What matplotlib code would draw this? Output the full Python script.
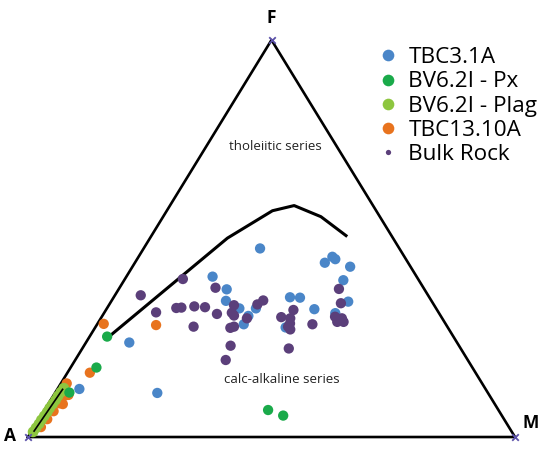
import matplotlib
matplotlib.use("Agg")
import matplotlib.pyplot as plt
from matplotlib.lines import Line2D
import numpy as np

plt.rcParams['font.family'] = ['Open Sans', 'DejaVu Sans']

# AFM compositions (F %, M %), A = 100 - F - M
tbc31a_F = [47.5, 43.9, 45.4, 44.8, 42.9, 39.5, 34.1, 31.2, 40.4, 37.2, 34.3, 32.4,
            30.5, 28.4, 32.4, 35.2, 35.1, 32.2, 27.6, 23.8, 11.1, 12.1]
tbc31a_M = [23.9, 39.0, 39.8, 40.7, 44.7, 45.0, 48.7, 47.5, 17.7, 22.2, 23.5, 27.2,
            30.0, 30.1, 30.6, 36.2, 38.3, 42.7, 39.1, 8.9, 21.0, 4.5]

px_F = [25.3, 17.5, 11.2, 6.8, 5.4]
px_M = [3.6, 5.3, 2.9, 45.9, 49.7]

plag_F = [1.3, 2.3, 3.3, 4.3, 5.3, 6.3, 7.3, 8.3, 9.3, 10.3, 11.3, 12.3]
plag_M = [0.4, 0.5, 0.6, 0.6, 0.7, 0.8, 0.8, 0.9, 1.0, 1.0, 1.1, 1.2]

tbc1310a_F = [28.5, 28.2, 16.2, 13.5, 10.6, 8.3, 2.5, 4.5, 6.5, 8.5, 10.5]
tbc1310a_M = [1.3, 12.2, 4.6, 1.2, 3.0, 3.0, 1.4, 1.7, 2.0, 2.2, 2.5]

bulk_F = [35.7, 39.8, 31.4, 32.5, 32.6, 32.9, 32.7, 27.8, 37.6, 31.0, 33.2, 31.3,
          30.6, 27.5, 27.8, 23.0, 19.4, 29.9, 33.4, 34.4, 32.0, 30.2, 29.9, 28.6,
          27.8, 27.1, 22.3, 28.4, 37.3, 33.7, 30.3, 29.0, 29.9, 29.0]
bulk_M = [5.3, 11.9, 10.6, 14.2, 15.2, 17.7, 20.0, 20.1, 19.7, 23.3, 25.7, 26.2,
          27.0, 27.8, 28.4, 30.1, 30.9, 30.0, 30.4, 31.1, 38.5, 36.9, 38.9, 39.5,
          39.5, 40.3, 42.4, 44.2, 45.2, 47.4, 47.9, 49.0, 49.5, 50.3]

# tholeiitic / calc-alkaline dividing line
div_F = [24.9, 50.1, 57.0, 58.3, 55.5, 50.5]
div_M = [3.8, 15.9, 21.7, 25.5, 32.4, 40.3]

tie_F = [1.5, 12.0]
tie_M = [0.5, 1.1]


def to_xy(F, M):
    F = np.asarray(F, float)
    M = np.asarray(M, float)
    return M + 0.5 * F, F


fig = plt.figure(figsize=(5.43, 4.5), dpi=100)
ax = fig.add_axes([0, 0, 1, 1])
ax.set_xlim(-5.75, 105.75)
ax.set_ylim(-3.27, 110.08)
ax.axis('off')

# triangle
tx, ty = to_xy([0, 0, 100, 0], [0, 100, 0, 0])
ax.plot(tx, ty, color='black', lw=1.9, zorder=2)
ax.scatter(tx[:3], ty[:3], marker='x', s=22, color='#5a50a8', lw=1.3, zorder=6)

ax.text(-3.7, 0.3, 'A', fontsize=12.5, fontweight='bold', ha='center', va='center')
ax.text(50, 105.5, 'F', fontsize=12.5, fontweight='bold', ha='center', va='center')
ax.text(103.3, 3.5, 'M', fontsize=12.5, fontweight='bold', ha='center', va='center')

x, y = to_xy(div_F, div_M)
ax.plot(x, y, color='black', lw=2.2, solid_capstyle='butt', zorder=3)

ax.text(50.7, 73.3, 'tholeiitic series', fontsize=9.5, color='#222222',
        ha='center', va='center')
ax.text(52.1, 14.4, 'calc-alkaline series', fontsize=9.5, color='#222222',
        ha='center', va='center')

blue = '#4a86c8'
green = '#1aaa4a'
lgreen = '#8dc63f'
orange = '#e8731e'
purple = '#5b3f7a'

x, y = to_xy(tbc1310a_F, tbc1310a_M)
ax.scatter(x, y, s=55, color=orange, edgecolors='none', zorder=4)
x, y = to_xy(plag_F, plag_M)
ax.scatter(x, y, s=60, color=lgreen, edgecolors='none', zorder=4)
x, y = to_xy(tie_F, tie_M)
ax.plot(x, y, color='black', lw=1.2, zorder=5)
x, y = to_xy(px_F, px_M)
ax.scatter(x, y, s=55, color=green, edgecolors='none', zorder=4)
x, y = to_xy(tbc31a_F, tbc31a_M)
ax.scatter(x, y, s=55, color=blue, edgecolors='none', zorder=4)
x, y = to_xy(bulk_F, bulk_M)
ax.scatter(x, y, s=55, color=purple, edgecolors='none', zorder=4)

handles = [
    Line2D([], [], ls='none', marker='o', ms=8.4, color=blue, mec='none'),
    Line2D([], [], ls='none', marker='o', ms=8.4, color=green, mec='none'),
    Line2D([], [], ls='none', marker='o', ms=8.4, color=lgreen, mec='none'),
    Line2D([], [], ls='none', marker='o', ms=8.4, color=orange, mec='none'),
    Line2D([], [], ls='none', marker='o', ms=3.8, color=purple, mec='none'),
]
labels = ['TBC3.1A', 'BV6.2I - Px', 'BV6.2I - Plag', 'TBC13.10A', 'Bulk Rock']
fig.legend(handles, labels, loc='upper left', bbox_to_anchor=(0.698, 0.895),
           frameon=False, fontsize=16.2, handlelength=0.8, handletextpad=0.5,
           labelspacing=0.14, borderpad=0, borderaxespad=0)

fig.savefig('out.png', dpi=100)
